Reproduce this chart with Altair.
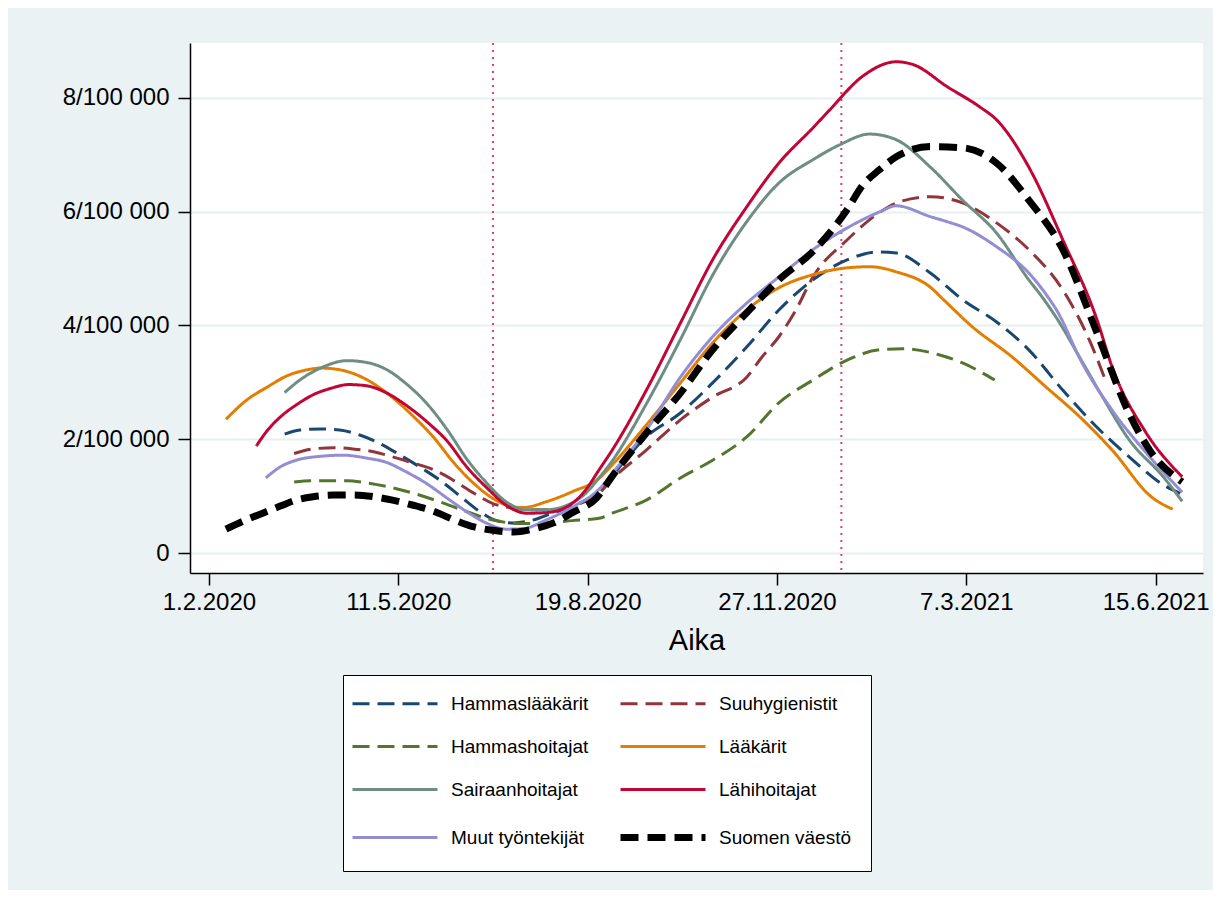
import altair as alt
import pandas as pd

# ---- series definitions (legend order = drawing order) ----
series_names = ["Hammaslääkärit", "Suuhygienistit", "Hammashoitajat", "Lääkärit",
                "Sairaanhoitajat", "Lähihoitajat", "Muut työntekijät", "Suomen väestö"]
series_colors = ["#1a476f", "#90353b", "#55752f", "#e37e00",
                 "#6e8e84", "#c10534", "#938dd2", "#000000"]
series_dashes = [[17, 8], [17, 8], [17, 8], [1, 0], [1, 0], [1, 0], [1, 0], [18, 9]]

# days since 1.2.2020 and incidence values (per 100 000)
hammaslaakarit_days = [40, 48, 59, 69, 80, 90, 101, 111, 122, 133, 143, 152, 161, 170, 182, 196, 206, 213,
                       231, 249, 266, 284, 301, 319, 337, 354, 363, 381, 398, 416, 433, 451, 469, 486, 504, 513]
hammaslaakarit_vals = [2.09, 2.16, 2.18, 2.16, 2.07, 1.93, 1.72, 1.52, 1.28, 0.99, 0.73, 0.57, 0.53, 0.57, 0.71, 0.87, 1.05, 1.35,
                       2.04, 2.46, 2.99, 3.62, 4.27, 4.80, 5.15, 5.29, 5.27, 4.92, 4.45, 4.06, 3.57, 2.86, 2.21, 1.69, 1.20, 1.05]

suuhygienistit_days = [45, 55, 66, 76, 87, 97, 108, 119, 129, 140, 150, 161, 171, 184, 196, 206, 213, 231,
                       249, 266, 284, 292, 301, 310, 319, 337, 354, 363, 381, 398, 416, 433, 451, 465, 474]
suuhygienistit_vals = [1.75, 1.83, 1.85, 1.83, 1.78, 1.69, 1.58, 1.46, 1.28, 1.05, 0.87, 0.79, 0.76, 0.76, 0.88, 1.05, 1.30, 1.81,
                       2.34, 2.74, 3.09, 3.44, 3.80, 4.27, 4.85, 5.50, 5.98, 6.15, 6.26, 6.15, 5.80, 5.33, 4.62, 3.74, 2.99]

hammashoitajat_days = [45, 55, 64, 73, 82, 94, 108, 122, 136, 150, 164, 178, 192, 206, 213, 231, 249, 266,
                       284, 301, 319, 337, 354, 366, 386, 398, 415]
hammashoitajat_vals = [1.25, 1.27, 1.27, 1.27, 1.24, 1.17, 1.05, 0.90, 0.73, 0.58, 0.52, 0.53, 0.57, 0.61, 0.70, 0.93, 1.32, 1.63,
                       2.04, 2.64, 3.04, 3.39, 3.57, 3.59, 3.48, 3.34, 3.04]

laakarit_days = [9, 20, 31, 41, 52, 59, 69, 82, 94, 108, 119, 129, 140, 150, 161, 166, 178, 192, 206, 213,
                 231, 249, 266, 284, 301, 319, 337, 349, 363, 381, 388, 403, 424, 442, 460, 477, 498, 509]
laakarit_vals = [2.35, 2.69, 2.92, 3.11, 3.22, 3.25, 3.22, 3.07, 2.81, 2.40, 2.02, 1.60, 1.22, 0.96, 0.81, 0.80, 0.90, 1.08, 1.31, 1.55,
                 2.25, 2.99, 3.69, 4.27, 4.66, 4.89, 5.01, 5.03, 4.94, 4.67, 4.45, 3.98, 3.45, 2.92, 2.39, 1.81, 0.98, 0.77]

sairaanhoitajat_days = [40, 48, 59, 73, 83, 94, 104, 115, 126, 136, 147, 157, 168, 178, 189, 199, 206, 213,
                        231, 249, 266, 284, 301, 319, 333, 349, 363, 381, 398, 416, 433, 440, 449, 460, 472, 486, 504, 514]
sairaanhoitajat_vals = [2.82, 3.04, 3.25, 3.38, 3.35, 3.22, 2.98, 2.63, 2.16, 1.66, 1.22, 0.90, 0.76, 0.76, 0.84, 1.05, 1.32, 1.62,
                        2.62, 3.75, 4.88, 5.82, 6.50, 6.91, 7.17, 7.36, 7.26, 6.78, 6.20, 5.62, 4.80, 4.50, 4.06, 3.43, 2.74, 1.99, 1.34, 0.91]

lahihoitajat_days = [25, 31, 38, 46, 55, 64, 74, 83, 94, 104, 115, 126, 136, 147, 157, 168, 178, 189, 199, 206,
                     213, 231, 249, 266, 284, 301, 319, 328, 345, 363, 372, 390, 407, 416, 433, 451, 469, 477, 495, 514]
lahihoitajat_vals = [1.88, 2.16, 2.40, 2.60, 2.78, 2.89, 2.96, 2.94, 2.81, 2.60, 2.31, 1.96, 1.52, 1.14, 0.84, 0.70, 0.71, 0.81, 1.11, 1.46,
                     1.81, 2.86, 4.04, 5.15, 6.08, 6.85, 7.47, 7.79, 8.37, 8.63, 8.58, 8.19, 7.84, 7.61, 6.78, 5.50, 4.10, 3.27, 2.11, 1.34]

muut_days = [30, 38, 46, 59, 71, 83, 94, 104, 115, 126, 136, 147, 157, 166, 178, 192, 206, 213, 231,
             249, 266, 284, 301, 319, 337, 354, 363, 381, 390, 398, 416, 433, 442, 448, 461, 477, 495, 514]
muut_vals = [1.32, 1.52, 1.63, 1.70, 1.72, 1.67, 1.59, 1.43, 1.22, 0.96, 0.73, 0.52, 0.42, 0.43, 0.58, 0.81, 1.12, 1.40, 2.16,
             3.09, 3.80, 4.39, 4.85, 5.33, 5.71, 5.99, 6.10, 5.91, 5.82, 5.73, 5.38, 4.92, 4.55, 4.25, 3.35, 2.51, 1.76, 1.07]

vaesto_days = [9, 20, 29, 38, 46, 55, 66, 76, 87, 97, 108, 119, 129, 140, 150, 161, 171, 182, 192, 205,
               213, 231, 249, 266, 284, 301, 319, 337, 345, 354, 363, 381, 398, 416, 433, 451, 469, 486, 497, 514]
vaesto_vals = [0.42, 0.59, 0.71, 0.83, 0.93, 0.99, 1.02, 1.02, 0.99, 0.93, 0.84, 0.73, 0.59, 0.46, 0.40, 0.37, 0.42, 0.53, 0.71, 0.98,
               1.35, 2.11, 2.81, 3.57, 4.22, 4.80, 5.30, 6.03, 6.45, 6.73, 6.96, 7.14, 7.12, 6.85, 6.20, 5.33, 3.87, 2.45, 1.80, 1.25]

# vertical reference lines (days since 1.2.2020: 30.6.2020 and 31.12.2020)
ref_days = [150, 334]

# axis ticks
x_tick_days = [0, 100, 200, 300, 400, 500]
x_tick_labels = ["1.2.2020", "11.5.2020", "19.8.2020", "27.11.2020", "7.3.2021", "15.6.2021"]
y_ticks = [0, 2, 4, 6, 8]
y_tick_labels = ["0", "2/100 000", "4/100 000", "6/100 000", "8/100 000"]

all_days = [hammaslaakarit_days, suuhygienistit_days, hammashoitajat_days, laakarit_days,
            sairaanhoitajat_days, lahihoitajat_days, muut_days, vaesto_days]
all_vals = [hammaslaakarit_vals, suuhygienistit_vals, hammashoitajat_vals, laakarit_vals,
            sairaanhoitajat_vals, lahihoitajat_vals, muut_vals, vaesto_vals]

rows = []
for name, ds, vs in zip(series_names, all_days, all_vals):
    for d, v in zip(ds, vs):
        rows.append({"series": name, "day": d, "value": v})
df = pd.DataFrame(rows)
ref_df = pd.DataFrame({"day": ref_days})

FONT = "Liberation Sans"

x_label_expr = "[" + ",".join("'%s'" % s for s in x_tick_labels) + "][indexof([" + \
    ",".join(str(v) for v in x_tick_days) + "], datum.value)]"
y_label_expr = "[" + ",".join("'%s'" % s for s in y_tick_labels) + "][indexof([" + \
    ",".join(str(v) for v in y_ticks) + "], datum.value)]"

x_enc = alt.X("day:Q",
              scale=alt.Scale(domain=[-10, 525], nice=False, zero=False),
              axis=alt.Axis(values=x_tick_days, labelExpr=x_label_expr, title="Aika",
                            grid=False, tickSize=12, tickWidth=1.5, tickColor="black",
                            domainColor="black", domainWidth=1.5, labelPadding=5,
                            labelFontSize=24, labelFont=FONT, labelColor="black",
                            titleFontSize=29, titleFont=FONT, titleFontWeight="normal",
                            titleColor="black", titlePadding=12))
y_enc = alt.Y("value:Q",
              scale=alt.Scale(domain=[-0.35, 8.96], nice=False, zero=False),
              axis=alt.Axis(values=y_ticks, labelExpr=y_label_expr, title="",
                            grid=True, gridColor="#e6eff1", gridWidth=2,
                            tickSize=12, tickWidth=1.5, tickColor="black",
                            domainColor="black", domainWidth=1.5, labelPadding=9,
                            labelFontSize=24, labelFont=FONT, labelColor="black"))

refs = alt.Chart(ref_df).mark_rule(color="#e0406a", strokeWidth=2, strokeDash=[2, 5]).encode(
    x=alt.X("day:Q", scale=alt.Scale(domain=[-10, 525], nice=False, zero=False))
)

lines = alt.Chart(df).mark_line(interpolate="monotone", strokeCap="butt").encode(
    x=x_enc,
    y=y_enc,
    color=alt.Color("series:N", scale=alt.Scale(domain=series_names, range=series_colors),
                    sort=series_names,
                    legend=alt.Legend(title=None, orient="none", legendX=153, legendY=632,
                                      columns=2, direction="horizontal",
                                      symbolType="stroke", symbolSize=7225,
                                      symbolStrokeWidth=alt.ExprRef("datum.value === 'Suomen väestö' ? 7 : 3"),
                                      symbolOffset=23.5,
                                      labelFontSize=19, labelFont=FONT,
                                      labelColor="black", labelOffset=46.5,
                                      padding=19, rowPadding=23, columnPadding=17,
                                      strokeColor="black", fillColor="white")),
    strokeDash=alt.StrokeDash("series:N", scale=alt.Scale(domain=series_names, range=series_dashes),
                              sort=series_names),
    strokeWidth=alt.condition(alt.datum.series == "Suomen väestö", alt.value(7), alt.value(3)),
)

chart = alt.layer(refs, lines).properties(
    width=1013, height=530,
    background="#eaf2f3",
    padding={"left": 182, "top": 35, "right": 10, "bottom": 317},
    autosize=alt.AutoSizeParams(type="none"),
).configure_view(fill="white", stroke=None)

chart.save("out.html", embed_options={"renderer": "svg", "actions": False})
